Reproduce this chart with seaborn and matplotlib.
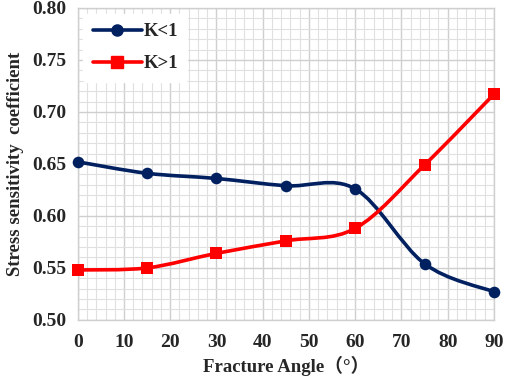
import numpy as np
import seaborn as sns
import matplotlib.pyplot as plt
from matplotlib.path import Path
from matplotlib.patches import PathPatch
from matplotlib.lines import Line2D
from matplotlib.ticker import MultipleLocator

# data
angles = [0, 15, 30, 45, 60, 75, 90]
k_less = [0.652, 0.641, 0.636, 0.629, 0.626, 0.554, 0.527]
k_more = [0.548, 0.550, 0.564, 0.576, 0.588, 0.649, 0.717]
series_names = ["K<1", "K>1"]
colors = ["#002060", "#FF0000"]
markers = ["o", "s"]

sns.set_style("white")
plt.rcParams['font.family'] = ['Liberation Serif', 'Noto Sans CJK SC']
plt.rcParams['font.weight'] = 'bold'


def smooth_path(xs, ys):
    # Excel-like smoothed line: Catmull-Rom segments as cubic Bezier
    p = np.column_stack([xs, ys]).astype(float)
    ext = np.vstack([p[0], p, p[-1]])
    verts = [p[0]]
    codes = [Path.MOVETO]
    for i in range(len(p) - 1):
        a, b, c, d = ext[i], ext[i + 1], ext[i + 2], ext[i + 3]
        verts += [b + (c - a) / 6, c - (d - b) / 6, c]
        codes += [Path.CURVE4] * 3
    return Path(verts, codes)


fig, ax = plt.subplots(figsize=(5.05, 3.79), dpi=100)
fig.subplots_adjust(left=0.154, right=0.978, top=0.979, bottom=0.156)

handles = []
for name, vals, col, mk in zip(series_names, [k_less, k_more], colors, markers):
    ax.add_patch(PathPatch(smooth_path(angles, vals), facecolor="none",
                           edgecolor=col, lw=2.6, zorder=3, capstyle="round"))
    sns.scatterplot(x=angles, y=vals, ax=ax, marker=mk, s=70, color=col,
                    edgecolor=col, linewidth=0, zorder=4, clip_on=False)
    handles.append(Line2D([], [], color=col, lw=2.6, marker=mk, markersize=8))

ax.set_xlim(0, 90)
ax.set_ylim(0.50, 0.80)
ax.xaxis.set_major_locator(MultipleLocator(10))
ax.xaxis.set_minor_locator(MultipleLocator(2))
ax.yaxis.set_major_locator(MultipleLocator(0.05))
ax.yaxis.set_minor_locator(MultipleLocator(0.01))
ax.yaxis.set_major_formatter(plt.FormatStrFormatter('%.2f'))
ax.xaxis.grid(True, which="minor", color="#e0e0e0", lw=0.8)
ax.yaxis.grid(True, which="minor", color="#e0e0e0", lw=0.8)
ax.xaxis.grid(True, which="major", color="#cfcfcf", lw=1.0)
ax.yaxis.grid(True, which="major", color="#cfcfcf", lw=1.0)
ax.set_axisbelow(True)
for s in ax.spines.values():
    s.set_color("#cfcfcf")
    s.set_linewidth(1.0)

ax.tick_params(axis="both", which="both", length=0, labelsize=14)
ax.tick_params(axis="x", pad=10)
ax.tick_params(axis="y", pad=8)
for lab in ax.get_xticklabels() + ax.get_yticklabels():
    lab.set_fontweight("bold")

ax.set_xlabel("Fracture Angle（°）", fontsize=13.5, fontweight="bold", labelpad=4)
ax.set_ylabel("Stress sensitivity  coefficient", fontsize=13.5, fontweight="bold", labelpad=6)

leg = ax.legend(handles, series_names, loc="upper left", fontsize=13.5,
                frameon=True, framealpha=1, edgecolor="white", handlelength=2.6,
                handletextpad=0.1, labelspacing=0.8, borderaxespad=0.3,
                borderpad=0.5)
for t in leg.get_texts():
    t.set_fontweight("bold")

fig.savefig("out.png", dpi=100)
